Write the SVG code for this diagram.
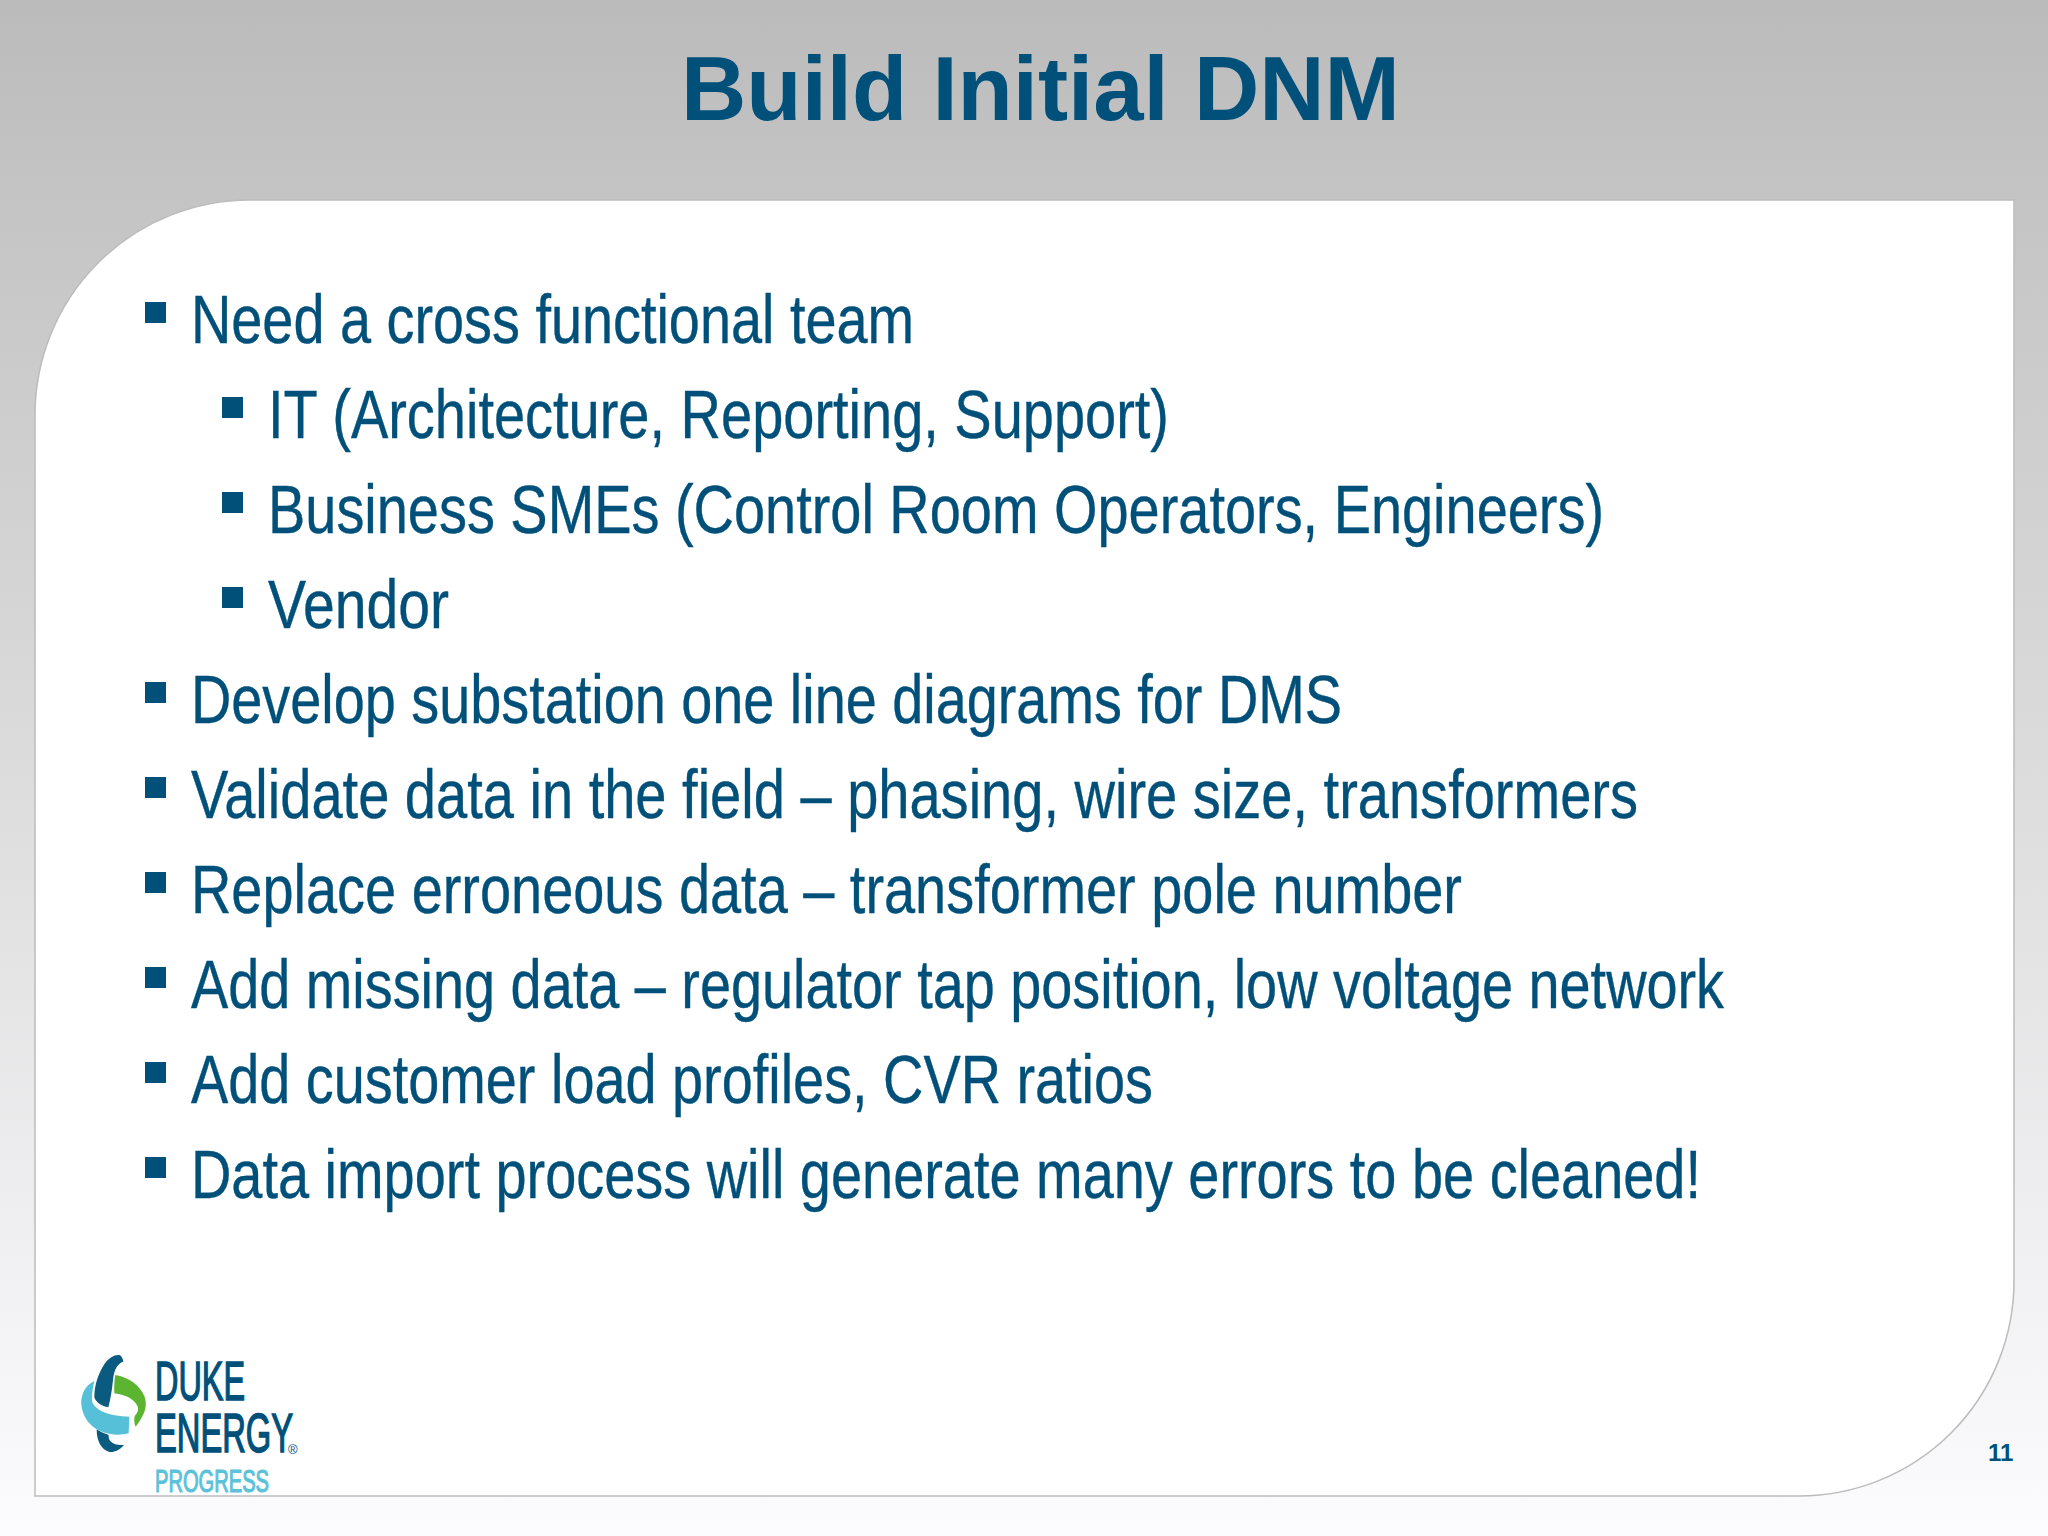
<svg xmlns="http://www.w3.org/2000/svg" width="2048" height="1536" viewBox="0 0 2048 1536">
<defs>
<linearGradient id="bg" x1="0" y1="0" x2="0" y2="1">
<stop offset="0" stop-color="#bbbbbb"/><stop offset="0.14" stop-color="#c5c5c5"/><stop offset="1" stop-color="#fcfcfe"/>
</linearGradient>
</defs>
<style>
.t{font-family:"Liberation Sans",Arial,sans-serif;fill:#00507a}
.b{font-size:68px;stroke:#00507a;stroke-width:0.4px}
.l{stroke:#00507a;stroke-width:1.6px}
.bu{fill:#00507a}
</style>
<rect id="background" width="2048" height="1536" fill="url(#bg)"/>
<path id="panel" d="M250 200H2014V1281A215 215 0 0 1 1799 1496H35V415A215 215 0 0 1 250 200Z" fill="#ffffff" stroke="#bcbcbc" stroke-width="1.5"/>
<text id="title" class="t" x="681" y="120" font-size="91" font-weight="700" textLength="719" lengthAdjust="spacingAndGlyphs">Build Initial DNM</text>
<g id="bullets" class="bu">
<rect x="145" y="302" width="21" height="21"/>
<rect x="222" y="397" width="21" height="21"/>
<rect x="222" y="492" width="21" height="21"/>
<rect x="222" y="587" width="21" height="21"/>
<rect x="145" y="682" width="21" height="21"/>
<rect x="145" y="777" width="21" height="21"/>
<rect x="145" y="872" width="21" height="21"/>
<rect x="145" y="967" width="21" height="21"/>
<rect x="145" y="1062" width="21" height="21"/>
<rect x="145" y="1157" width="21" height="21"/>
</g>
<g id="body">
<text class="t b" x="191" y="343" textLength="723" lengthAdjust="spacingAndGlyphs">Need a cross functional team</text>
<text class="t b" x="268" y="438" textLength="901" lengthAdjust="spacingAndGlyphs">IT (Architecture, Reporting, Support)</text>
<text class="t b" x="268" y="533" textLength="1336" lengthAdjust="spacingAndGlyphs">Business SMEs (Control Room Operators, Engineers)</text>
<text class="t b" x="268" y="628" textLength="181" lengthAdjust="spacingAndGlyphs">Vendor</text>
<text class="t b" x="191" y="723" textLength="1151" lengthAdjust="spacingAndGlyphs">Develop substation one line diagrams for DMS</text>
<text class="t b" x="191" y="818" textLength="1447" lengthAdjust="spacingAndGlyphs">Validate data in the field – phasing, wire size, transformers</text>
<text class="t b" x="191" y="913" textLength="1271" lengthAdjust="spacingAndGlyphs">Replace erroneous data – transformer pole number</text>
<text class="t b" x="191" y="1008" textLength="1533" lengthAdjust="spacingAndGlyphs">Add missing data – regulator tap position, low voltage network</text>
<text class="t b" x="191" y="1103" textLength="962" lengthAdjust="spacingAndGlyphs">Add customer load profiles, CVR ratios</text>
<text class="t b" x="191" y="1198" textLength="1510" lengthAdjust="spacingAndGlyphs">Data import process will generate many errors to be cleaned!</text>
</g>
<g id="logo">
<g transform="translate(40 1330) scale(0.3333)">
<path fill="#0b5a80" d="M250 95C232 100 222 120 219 150C216 180 212 205 205 232C185 228 168 218 163 202C163 165 175 130 195 100C208 82 228 72 240 76C246 80 249 87 250 95Z"/>
<path fill="#0b5a80" d="M170 298C185 308 198 312 206 315C204 330 214 347 252 345C240 360 222 368 208 366C185 360 170 335 170 298Z"/>
<path fill="#56c0d8" d="M163 153C158 175 155 195 156 212C160 232 185 248 220 255C240 259 255 259 268 260L266 310C245 316 215 316 190 307C155 295 128 265 124 225C122 190 138 165 163 153Z"/>
<path fill="#5cb531" d="M226 135C265 142 300 165 314 200C322 225 318 250 287 290C282 280 282 270 284 258C292 250 296 242 294 232C285 208 258 194 223 190C222 170 223 150 226 135Z"/>
</g>
<text class="t l" x="155" y="1400" font-size="56" textLength="90" lengthAdjust="spacingAndGlyphs">DUKE</text>
<text class="t l" x="155" y="1452" font-size="56" textLength="138" lengthAdjust="spacingAndGlyphs">ENERGY</text>
<text class="t" x="288" y="1454" font-size="13">®</text>
<text x="155" y="1492" font-family="Liberation Sans,Arial,sans-serif" font-size="32" fill="#5cc2d9" stroke="#5cc2d9" stroke-width="1.2" textLength="114" lengthAdjust="spacingAndGlyphs">PROGRESS</text>
</g>
<text id="page-number" class="t" x="1988" y="1461" font-size="24" font-weight="700">11</text>
</svg>
